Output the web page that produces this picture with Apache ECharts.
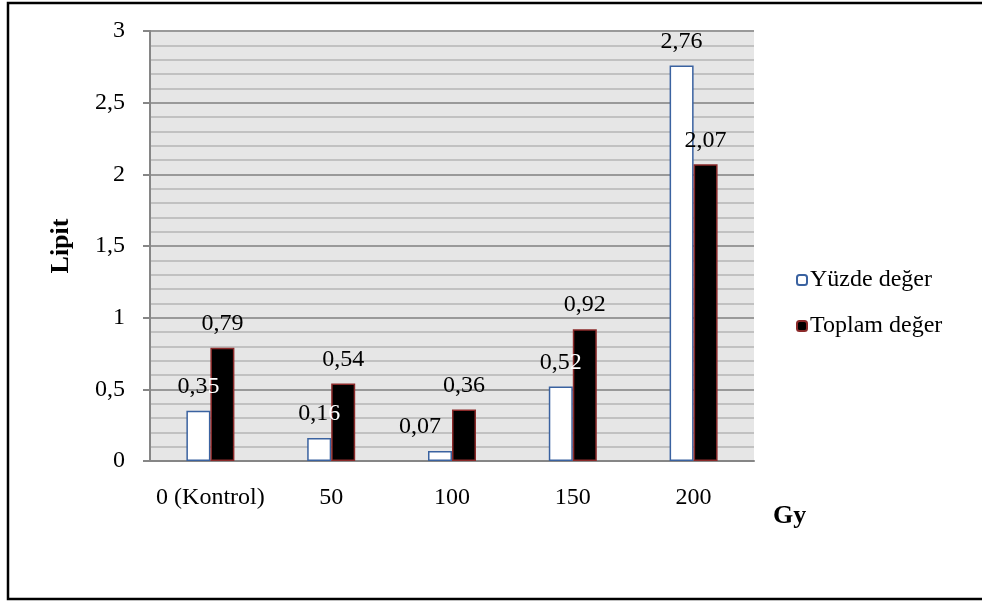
<!DOCTYPE html>
<html>
<head>
<meta charset="utf-8">
<script src="https://cdn.jsdelivr.net/npm/echarts@6/dist/echarts.min.js"></script>
<style>
  html, body { margin: 0; padding: 0; background: #fff; }
  #chart { width: 982px; height: 601px; }
</style>
</head>
<body>
<div id="chart"></div>
<script>
// Dose groups (Gy) and lipid values for each measure
const categories = ['0 (Kontrol)', '50', '100', '150', '200'];
const yuzdeDeger = [0.35, 0.16, 0.07, 0.52, 2.76];
const toplamDeger = [0.79, 0.54, 0.36, 0.92, 2.07];
const seriesNames = ['Yüzde değer', 'Toplam değer'];

const FONT = '"Liberation Serif", "Times New Roman", serif';
const fmt = v => String(v).replace('.', ',');

const chart = echarts.init(document.getElementById('chart'), null, { renderer: 'canvas' });

const baseLabel = {
  show: true,
  position: 'top',
  distance: 12,
  color: '#000',
  fontFamily: FONT,
  fontSize: 24
};

// Value labels of the white bars: the last digit sits over the neighbouring
// black bar, so it is drawn in white there; the smallest label is nudged
// left so it stays clear of the black bar.
const yuzdeLabelData = yuzdeDeger.map((v, i) => {
  const s = fmt(v);
  const overBlack = toplamDeger[i] - v > 0.3 && v > 0.1;
  const item = { value: v, label: {} };
  item.label.formatter = overBlack
    ? '{b|' + s.slice(0, -1) + '}{w|' + s.slice(-1) + '}'
    : s;
  if (toplamDeger[i] - v > 0.25 && v < 0.1) {
    item.label.offset = [-20, 0];
  }
  return item;
});

// The bars themselves live on the first x axis; a hidden twin axis carries
// transparent copies that only draw the value labels, on top of every bar.
const barCommon = { type: 'bar', barWidth: 24, barGap: '0%' };
const hiddenItem = { color: 'rgba(0,0,0,0)', borderWidth: 0 };

chart.setOption({
  animation: false,
  backgroundColor: '#fff',
  textStyle: { fontFamily: FONT },
  grid: {
    left: 150, top: 31, right: 228, bottom: 140,
    show: true, backgroundColor: '#e6e6e6', borderWidth: 0
  },
  legend: {
    orient: 'vertical',
    left: 796, top: 268,
    padding: 0,
    itemWidth: 10, itemHeight: 10, itemGap: 22,
    textStyle: { fontFamily: FONT, fontSize: 24, color: '#000', lineHeight: 24, padding: [0, 0, 0, -2] },
    data: seriesNames
  },
  xAxis: [
    {
      type: 'category',
      data: categories,
      axisLine: { lineStyle: { color: '#868686', width: 2 } },
      axisTick: { show: false },
      axisLabel: { color: '#000', fontFamily: FONT, fontSize: 24, margin: 25, interval: 0 },
      splitLine: { show: false }
    },
    {
      type: 'category',
      data: categories,
      show: false
    }
  ],
  yAxis: {
    type: 'value',
    min: 0, max: 3, interval: 0.5,
    name: 'Lipit',
    nameLocation: 'middle',
    nameGap: 76,
    nameRotate: 90,
    nameTextStyle: { fontFamily: FONT, fontSize: 26, fontWeight: 'bold', color: '#000' },
    axisLine: { show: true, lineStyle: { color: '#868686', width: 2 } },
    axisTick: { show: true, length: 7, lineStyle: { color: '#868686', width: 2 } },
    axisLabel: { color: '#000', fontFamily: FONT, fontSize: 24, margin: 25, formatter: v => fmt(v) },
    splitLine: { show: true, lineStyle: { color: '#999999', width: 2 } },
    minorTick: { show: false, splitNumber: 5 },
    minorSplitLine: { show: true, lineStyle: { color: '#b5b5b5', width: 1.5 } }
  },
  graphic: [
    {
      type: 'rect',
      shape: { x: 8, y: 3, width: 1000, height: 596 },
      style: { fill: 'none', stroke: '#000', lineWidth: 2.5 },
      silent: true, z: 100
    },
    {
      type: 'text',
      left: 773, top: 503,
      style: { text: 'Gy', font: 'bold 26px ' + FONT, fill: '#000' }
    }
  ],
  series: [
    Object.assign({}, barCommon, {
      name: seriesNames[0],
      xAxisIndex: 0,
      z: 2,
      data: yuzdeDeger,
      itemStyle: { color: '#ffffff', borderColor: '#3a62a0', borderWidth: 1.5 }
    }),
    Object.assign({}, barCommon, {
      name: seriesNames[1],
      xAxisIndex: 0,
      z: 2,
      data: toplamDeger,
      itemStyle: { color: '#000000', borderColor: '#8b2a2a', borderWidth: 1.5 }
    }),
    Object.assign({}, barCommon, {
      name: 'yuzde-etiket',
      xAxisIndex: 1,
      z: 10,
      silent: true,
      data: yuzdeLabelData,
      itemStyle: hiddenItem,
      label: Object.assign({}, baseLabel, {
        rich: {
          b: { color: '#000', fontFamily: FONT, fontSize: 24 },
          w: { color: '#fff', fontFamily: FONT, fontSize: 24 }
        }
      })
    }),
    Object.assign({}, barCommon, {
      name: 'toplam-etiket',
      xAxisIndex: 1,
      z: 10,
      silent: true,
      data: toplamDeger,
      itemStyle: hiddenItem,
      label: Object.assign({}, baseLabel, { formatter: p => fmt(p.value) })
    })
  ]
});
</script>
</body>
</html>
